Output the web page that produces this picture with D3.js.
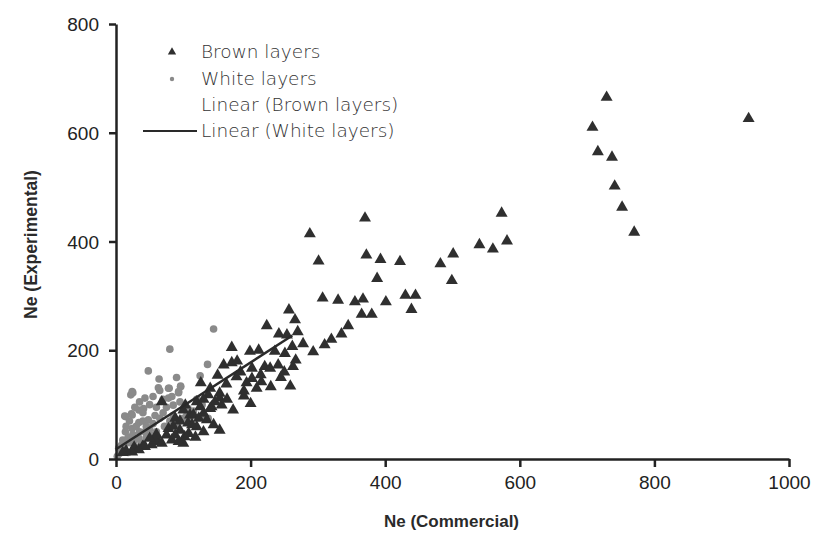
<!DOCTYPE html>
<html>
<head>
<meta charset="utf-8">
<script src="https://cdn.jsdelivr.net/npm/d3@7"></script>
<style>
  body { margin: 0; background: #fff; }
  svg text { font-family: "Liberation Sans", Arial, sans-serif; }
</style>
</head>
<body>
<div id="chart"></div>
<script>
// Brown layers [Ne commercial, Ne experimental]
const brownPoints = [
  [288,414],[301,364],[370,443],[372,375],[393,367],[422,363],[388,332],[307,296],
  [330,292],[355,289],[367,294],[401,289],[430,301],[445,301],[439,275],[365,266],
  [380,266],[482,359],[501,377],[499,328],[540,394],[560,386],[581,401],[573,452],
  [729,665],[708,610],[716,565],[737,555],[741,502],[752,463],[770,417],[940,626],
  [257,274],[266,256],[224,245],[242,230],[254,228],[270,234],[278,212],[262,207],
  [293,197],[172,205],[199,198],[212,200],[236,198],[251,194],[267,182],[160,173],
  [172,177],[221,170],[229,167],[241,173],[263,170],[202,167],[179,151],[202,148],
  [216,142],[151,154],[194,140],[230,133],[259,134],[164,138],[126,140],[140,130],
  [154,121],[190,116],[200,102],[174,90],[154,53],[120,105],[125,96],[130,84],
  [100,90],[110,81],[142,96],[147,105],[107,66],[120,59],[95,53],[102,41],
  [135,72],[145,63],[88,75],[75,44],[83,35],[63,32],[53,26],[100,29],[40,24],
  [27,22],[209,130],[137,118],[154,112],[157,99],[140,93],[68,105],[103,99],
  [115,81],[123,75],[113,63],[108,47],[78,56],[88,44],[93,32],[58,35],[68,29],
  [43,23],[34,17],[24,13],[180,180],[185,160],[215,155],[245,150],[250,160],
  [190,125],[165,110],[130,110],[95,70],[85,60],[60,45],[50,38],[118,40],[130,50],
  [15,15],[10,12],[310,210],[320,220],[335,230],[345,245]
];

// White layers
const whitePoints = [
  [145,239],[80,202],[48,162],[64,147],[90,150],[96,134],[79,130],[25,122],[22,118],
  [65,126],[136,174],[125,153],[93,122],[78,112],[13,79],[23,83],[107,93],[85,99],
  [95,105],[137,75],[132,75],[24,124],[43,112],[63,131],[78,130],[96,133],[83,115],
  [93,124],[14,78],[24,81],[34,90],[41,93],[53,44],[43,50],[34,38],[14,29],[4,20],
  [24,56],[14,50],[34,67],[48,72],[5,10],[8,25],[10,35],[12,20],[18,40],[20,30],
  [25,45],[28,35],[30,60],[35,50],[38,28],[40,70],[45,60],[50,55],[55,65],[58,80],
  [60,50],[65,75],[70,85],[72,60],[75,95],[80,70],[85,80],[90,65],[100,75],[105,80],
  [110,70],[115,88],[120,110],[128,100],[2,5],[6,15],[15,60],[20,70],[28,95],
  [35,105],[50,100],[55,115],[60,95],[70,110],[40,85],[45,40],[62,40],[18,12],[30,22]
];

// Linear trend line end points
const trendX = [0, 262];
const trendY = [18, 227];

const xTicks = [0, 200, 400, 600, 800, 1000];
const yTicks = [0, 200, 400, 600, 800];

const legendItems = ["Brown layers", "White layers", "Linear (Brown layers)", "Linear (White layers)"];

/* svg setup */
const width = 814, height = 539;
const margin = { top: 24, right: 25, bottom: 80, left: 116 };

const svg = d3.select("#chart").append("svg")
  .attr("width", width)
  .attr("height", height);

const x = d3.scaleLinear().domain([0, 1000]).range([margin.left, width - margin.right]);
const y = d3.scaleLinear().domain([0, 800]).range([height - margin.bottom, margin.top]);

/* white layers (drawn first, under the triangles) */
svg.append("g")
  .selectAll("circle")
  .data(whitePoints)
  .enter()
  .append("circle")
  .attr("cx", (d) => x(d[0]))
  .attr("cy", (d) => y(d[1]))
  .attr("r", 3.8)
  .attr("fill", "#8a8a8a");

/* brown layers */
const tri = d3.symbol().type(d3.symbolTriangle).size(62);
svg.append("g")
  .selectAll("path")
  .data(brownPoints)
  .enter()
  .append("path")
  .attr("d", tri)
  .attr("transform", (d) => `translate(${x(d[0])},${y(d[1])})`)
  .attr("fill", "#2f2f2f");

/* trend line */
svg.append("line")
  .attr("x1", x(trendX[0])).attr("y1", y(trendY[0]))
  .attr("x2", x(trendX[1])).attr("y2", y(trendY[1]))
  .attr("stroke", "#2a2a2a")
  .attr("stroke-width", 2.5);

/* axes */
const xAxis = svg.append("g")
  .attr("transform", `translate(0,${y(0)})`)
  .call(d3.axisBottom(x).tickValues(xTicks).tickFormat(d3.format("d"))
    .tickSize(8).tickSizeOuter(0).tickPadding(9));
const yAxis = svg.append("g")
  .attr("transform", `translate(${x(0)},0)`)
  .call(d3.axisLeft(y).tickValues(yTicks).tickFormat(d3.format("d"))
    .tickSize(7).tickSizeOuter(0).tickPadding(10));

[xAxis, yAxis].forEach((g) => {
  g.select(".domain").attr("stroke", "#222").attr("stroke-width", 2.5);
  g.selectAll(".tick line").attr("stroke", "#222").attr("stroke-width", 2.5);
  g.selectAll(".tick text")
    .attr("fill", "#222")
    .style("font-size", "19px")
    .style("font-family", "'Liberation Sans', Arial, sans-serif");
});
yAxis.selectAll(".tick text").attr("dy", "0.35em");

/* axis titles */
svg.append("text")
  .attr("x", (x(0) + x(1000)) / 2 - 1)
  .attr("y", 527)
  .attr("text-anchor", "middle")
  .attr("fill", "#2a2a2a")
  .style("font-size", "17px")
  .style("font-weight", "bold")
  .text("Ne (Commercial)");

svg.append("text")
  .attr("transform", `translate(37,${y(400) + 3}) rotate(-90)`)
  .attr("text-anchor", "middle")
  .attr("fill", "#2a2a2a")
  .style("font-size", "17.5px")
  .style("font-weight", "bold")
  .text("Ne (Experimental)");

/* legend */
const legend = svg.append("g");
const rowY = [52, 79, 105, 131];
legend.selectAll("text")
  .data(legendItems)
  .enter()
  .append("text")
  .attr("x", 201)
  .attr("y", (d, i) => rowY[i])
  .attr("dy", "0.35em")
  .attr("fill", "#333")
  .style("font-size", "18.5px")
  .style("font-family", "'DejaVu Sans', sans-serif")
  .style("font-weight", "200")
  .text((d) => d);

legend.append("path")
  .attr("d", d3.symbol().type(d3.symbolTriangle).size(30))
  .attr("transform", `translate(172,${rowY[0]})`)
  .attr("fill", "#2f2f2f");
legend.append("circle")
  .attr("cx", 172).attr("cy", rowY[1]).attr("r", 2.2)
  .attr("fill", "#8a8a8a");
legend.append("line")
  .attr("x1", 143).attr("x2", 197)
  .attr("y1", rowY[3]).attr("y2", rowY[3])
  .attr("stroke", "#2a2a2a").attr("stroke-width", 2);
</script>
</body>
</html>
